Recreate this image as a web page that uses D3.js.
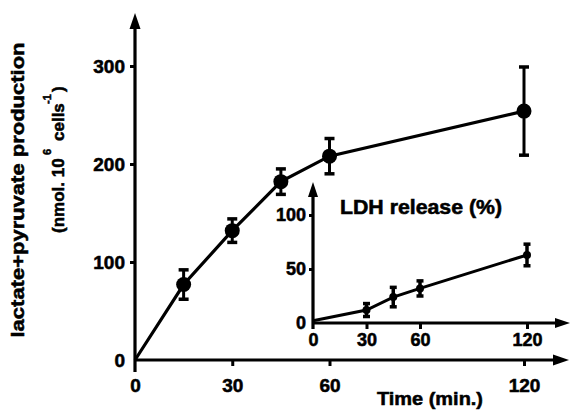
<!DOCTYPE html>
<html><head><meta charset="utf-8">
<script src="https://cdn.jsdelivr.net/npm/d3@7"></script>
<style>
html,body{margin:0;padding:0;background:#fff;}
svg{display:block;}
text{font-family:"Liberation Sans",Arial,sans-serif;font-weight:bold;fill:#000;stroke:#000;stroke-width:0.55px;}
</style></head>
<body>
<script>
// Main chart: lactate + pyruvate production
const mainTime = [15, 30, 45, 60, 120];
const mainValue = [77, 132, 182, 208, 254];
const mainErr = [15, 12, 13, 18, 45];
const mainLineTime = [0, 15, 30, 45, 60, 120];
const mainLineValue = [0, 77, 132, 182, 208, 254];
const mainXTicks = [0, 30, 60, 120];
const mainYTicks = [0, 100, 200, 300];

// Inset: LDH release (%)
const ldhTime = [30, 45, 60, 120];
const ldhValue = [12, 24, 32, 63];
const ldhErr = [6, 9, 7, 10];
const ldhLineTime = [0, 30, 45, 60, 120];
const ldhLineValue = [2, 12, 24, 32, 63];
const ldhXTicks = [0, 30, 60, 120];
const ldhYTicks = [0, 50, 100];

const W = 570, H = 410;
const svg = d3.select("body").append("svg").attr("width", W).attr("height", H);

function drawPanel(o) {
  const g = svg.append("g");
  const x = d3.scaleLinear().domain([0, 120]).range([o.x0, o.x1]);
  const y = d3.scaleLinear().domain(o.yDomain).range([o.y0, o.y1]);

  const xa = g.append("g").attr("transform", `translate(0,${o.y0})`)
    .call(d3.axisBottom(x).tickValues(o.xTicks).tickSize(o.xTickSize).tickPadding(o.xTickPad).tickFormat(d3.format("d")));
  const ya = g.append("g").attr("transform", `translate(${o.x0},0)`)
    .call(d3.axisLeft(y).tickValues(o.yTicks).tickSize(o.yTickSize).tickPadding(o.yTickPad).tickFormat(d3.format("d")));
  [xa, ya].forEach(a => {
    a.select(".domain").remove();
    a.selectAll("line").attr("stroke", "#000").attr("stroke-width", 3);
    a.selectAll("text").attr("font-size", o.tickFont).attr("font-family", null).attr("fill", "#000");
  });
  xa.selectAll(".tick").filter(d => d === 0).select("line").remove();
  ya.selectAll(".tick").filter(d => d === 0).select("line").remove();

  g.append("line").attr("x1", o.x0).attr("x2", o.xArrow - o.ah + 2).attr("y1", o.y0).attr("y2", o.y0)
    .attr("stroke", "#000").attr("stroke-width", 3.2);
  g.append("path").attr("d", `M${o.xArrow},${o.y0} L${o.xArrow - o.ah},${o.y0 - o.aw / 2} L${o.xArrow - o.ah},${o.y0 + o.aw / 2} Z`).attr("fill", "#000");
  g.append("line").attr("x1", o.x0).attr("x2", o.x0).attr("y1", o.y0 + o.below).attr("y2", o.yArrow + o.ah - 2)
    .attr("stroke", "#000").attr("stroke-width", 3.2);
  g.append("path").attr("d", `M${o.x0},${o.yArrow} L${o.x0 - o.aw / 2},${o.yArrow + o.ah} L${o.x0 + o.aw / 2},${o.yArrow + o.ah} Z`).attr("fill", "#000");

  const line = d3.line().x((d, i) => x(o.lineT[i])).y((d) => y(d));
  g.append("path").datum(o.lineV).attr("d", line).attr("fill", "none")
    .attr("stroke", "#000").attr("stroke-width", o.lw);

  const eb = g.selectAll(".eb").data(o.t).enter().append("g");
  eb.append("line").attr("x1", d => x(d)).attr("x2", d => x(d))
    .attr("y1", (d, i) => y(o.v[i] - o.e[i])).attr("y2", (d, i) => y(o.v[i] + o.e[i]))
    .attr("stroke", "#000").attr("stroke-width", o.ebw);
  ["-", "+"].forEach(s => {
    eb.append("line").attr("x1", d => x(d) - o.cap).attr("x2", d => x(d) + o.cap)
      .attr("y1", (d, i) => y(s === "+" ? o.v[i] + o.e[i] : o.v[i] - o.e[i]))
      .attr("y2", (d, i) => y(s === "+" ? o.v[i] + o.e[i] : o.v[i] - o.e[i]))
      .attr("stroke", "#000").attr("stroke-width", 3.5);
  });
  eb.append("circle").attr("cx", d => x(d)).attr("cy", (d, i) => y(o.v[i])).attr("r", o.r).attr("fill", "#000");
  return {x, y, g};
}

drawPanel({
  x0: 135, x1: 524, y0: 360, y1: 66, yDomain: [0, 300],
  xTicks: mainXTicks, yTicks: mainYTicks,
  xTickSize: 6, xTickPad: 13, yTickSize: 5, yTickPad: 5, tickFont: 19,
  xArrow: 569, yArrow: 13, ah: 16, aw: 11, below: 12,
  lineT: mainLineTime, lineV: mainLineValue, t: mainTime, v: mainValue, e: mainErr,
  lw: 3.2, ebw: 3, cap: 5, r: 7.5
});

drawPanel({
  x0: 313, x1: 527, y0: 323, y1: 215, yDomain: [0, 100],
  xTicks: ldhXTicks, yTicks: ldhYTicks,
  xTickSize: 6, xTickPad: 4, yTickSize: 4, yTickPad: 3, tickFont: 18,
  xArrow: 570, yArrow: 182, ah: 15, aw: 10, below: 6,
  lineT: ldhLineTime, lineV: ldhLineValue, t: ldhTime, v: ldhValue, e: ldhErr,
  lw: 3, ebw: 3.5, cap: 3.5, r: 4
});

svg.append("text").attr("x", 340).attr("y", 214).attr("font-size", 20)
  .attr("textLength", 162).attr("lengthAdjust", "spacingAndGlyphs").text("LDH release (%)");

svg.append("text").attr("x", 377).attr("y", 405).attr("font-size", 19)
  .attr("textLength", 106).attr("lengthAdjust", "spacingAndGlyphs").text("Time (min.)");

svg.append("text").attr("transform", "translate(24,190) rotate(-90)")
  .attr("text-anchor", "middle").attr("font-size", 19)
  .attr("textLength", 295).attr("lengthAdjust", "spacingAndGlyphs")
  .text("lactate+pyruvate production");

// second line of y title, pieces placed along the rotated axis
const yl2 = svg.append("g").attr("transform", "translate(64,0) rotate(-90)");
yl2.append("text").attr("x", -233).attr("y", 0).attr("font-size", 17).text("(nmol. 10");
yl2.append("text").attr("x", -155).attr("y", -13).attr("font-size", 11).text("6");
yl2.append("text").attr("x", -141).attr("y", 0).attr("font-size", 17).text("cells");
yl2.append("text").attr("x", -104).attr("y", -13).attr("font-size", 11).text("-1");
yl2.append("text").attr("x", -92).attr("y", 0).attr("font-size", 17).text(")");
</script>
</body></html>
